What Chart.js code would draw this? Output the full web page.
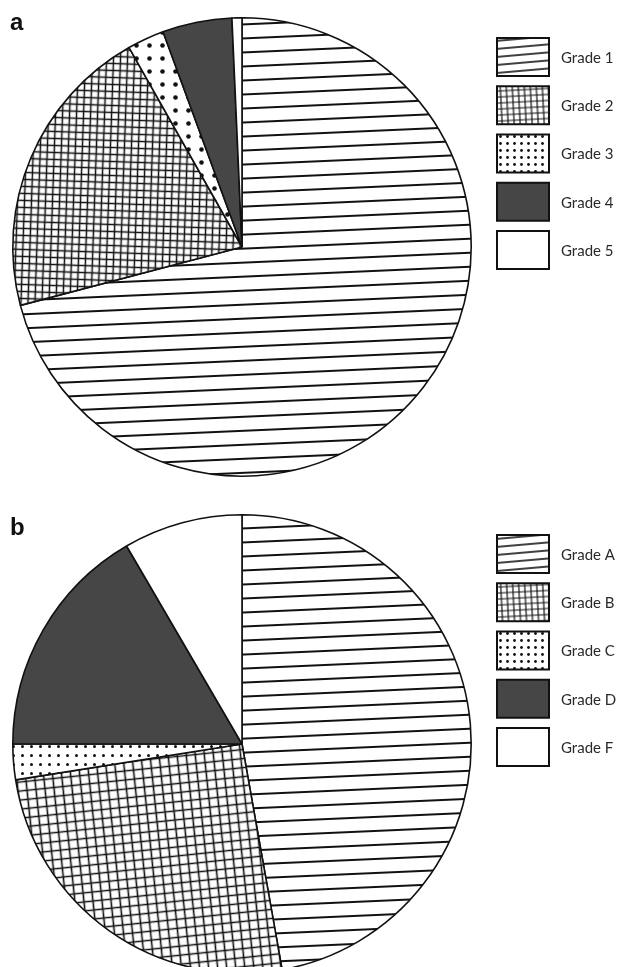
<!DOCTYPE html>
<html>
<head>
<meta charset="utf-8">
<script src="https://cdn.jsdelivr.net/npm/chart.js@4"></script>
<style>
  html, body { margin: 0; padding: 0; background: #fff; overflow: hidden; }
  body { width: 618px; height: 967px; position: relative; }
  .panel { position: absolute; left: 0; }
  .tag { position: absolute; left: 10px; font: bold 24px "Liberation Sans", Arial, sans-serif; line-height: 24px; color: #111; }
  canvas { display: block; }
</style>
</head>
<body>
<div class="panel" style="top:0"><canvas id="pieA" width="618" height="490"></canvas></div>
<div class="panel" style="top:490px"><canvas id="pieB" width="618" height="500"></canvas></div>
<div class="tag" style="top:10px">a</div>
<div class="tag" style="top:515px">b</div>
<script>
// Panel a: share of each grade
const categoriesA = ['Grade 1', 'Grade 2', 'Grade 3', 'Grade 4', 'Grade 5'];
const valuesA = [70.9, 20.9, 2.6, 4.9, 0.7];

// Panel b: share of each letter grade
const categoriesB = ['Grade A', 'Grade B', 'Grade C', 'Grade D', 'Grade F'];
const valuesB = [47.2, 25.3, 2.5, 16.6, 8.4];

// Fill style for each slice, in category order
const fillKinds = ['lines', 'grid', 'dots', 'solid', 'blank'];

const INK = '#111111';
const DARK = '#464646';

function tile(size, draw) {
  const c = document.createElement('canvas');
  c.width = size; c.height = size;
  const g = c.getContext('2d');
  g.fillStyle = '#fff';
  g.fillRect(0, 0, size, size);
  draw(g, size);
  return c;
}

function makePattern(ctx, kind, s) {
  let pat;
  if (kind === 'lines') {
    pat = ctx.createPattern(tile(s.line, (g, n) => {
      g.strokeStyle = INK; g.lineWidth = s.lw;
      g.beginPath(); g.moveTo(0, n / 2); g.lineTo(n, n / 2); g.stroke();
    }), 'repeat');
    pat.setTransform(new DOMMatrix().rotate(s.lineAngle));
  } else if (kind === 'grid') {
    pat = ctx.createPattern(tile(s.grid, (g, n) => {
      g.strokeStyle = INK; g.lineWidth = s.gw;
      g.beginPath();
      g.moveTo(0, n / 2); g.lineTo(n, n / 2);
      g.moveTo(n / 2, 0); g.lineTo(n / 2, n);
      g.stroke();
    }), 'repeat');
    pat.setTransform(new DOMMatrix().rotate(s.gridAngle));
  } else if (kind === 'dots') {
    pat = ctx.createPattern(tile(s.dot, (g, n) => {
      g.fillStyle = INK;
      g.beginPath(); g.arc(n / 2, n / 2, s.dotR, 0, Math.PI * 2); g.fill();
    }), 'repeat');
  } else if (kind === 'solid') {
    return DARK;
  } else {
    return '#ffffff';
  }
  return pat;
}

// Legend drawn as boxed swatches to the right of each pie
const swatchLegend = {
  id: 'swatchLegend',
  afterDraw(chart, args, opts) {
    const ctx = chart.ctx;
    const labels = chart.data.labels;
    ctx.save();
    labels.forEach((label, i) => {
      const y = opts.y + i * opts.step;
      ctx.fillStyle = opts.fills[i];
      ctx.fillRect(opts.x, y, opts.w, opts.h);
      ctx.lineWidth = 2;
      ctx.strokeStyle = INK;
      ctx.strokeRect(opts.x, y, opts.w, opts.h);
      ctx.fillStyle = '#2a2a2a';
      ctx.font = '15px Lato, "Open Sans", sans-serif';
      ctx.textBaseline = 'middle';
      ctx.textAlign = 'left';
      ctx.fillText(label, opts.x + opts.w + 12, y + opts.h / 2 + 1);
    });
    ctx.restore();
  }
};

function buildPie(id, labels, values, sliceScale, pad, legendTop) {
  const canvas = document.getElementById(id);
  const ctx = canvas.getContext('2d');
  const sliceFills = fillKinds.map(k => makePattern(ctx, k, sliceScale));
  const swatchScale = { line: 8, lw: 1.6, grid: 6, gw: 1.2, dot: 7, dotR: 1.4, lineAngle: -5, gridAngle: -3 };
  const swatchFills = fillKinds.map(k => makePattern(ctx, k, swatchScale));
  return new Chart(ctx, {
    type: 'pie',
    data: {
      labels: labels,
      datasets: [{
        data: values,
        backgroundColor: sliceFills,
        borderColor: INK,
        borderWidth: 1.6,
        hoverOffset: 0
      }]
    },
    options: {
      responsive: false,
      animation: false,
      events: [],
      rotation: 0,
      layout: { padding: pad },
      plugins: {
        legend: { display: false },
        tooltip: { enabled: false },
        swatchLegend: { x: 497, y: legendTop, step: 48.25, w: 52, h: 38, fills: swatchFills }
      }
    },
    plugins: [swatchLegend]
  });
}

buildPie('pieA', categoriesA, valuesA,
  { line: 14, lw: 2, grid: 7, gw: 1.5, dot: 13, dotR: 2.3, lineAngle: -2.5, gridAngle: 2 },
  { left: 12, top: 17, right: 146, bottom: 13 }, 38);

buildPie('pieB', categoriesB, valuesB,
  { line: 14, lw: 2, grid: 9, gw: 1.6, dot: 9, dotR: 1.5, lineAngle: -2.5, gridAngle: -6 },
  { left: 12, top: 24, right: 146, bottom: 16 }, 45);
</script>
</body>
</html>
